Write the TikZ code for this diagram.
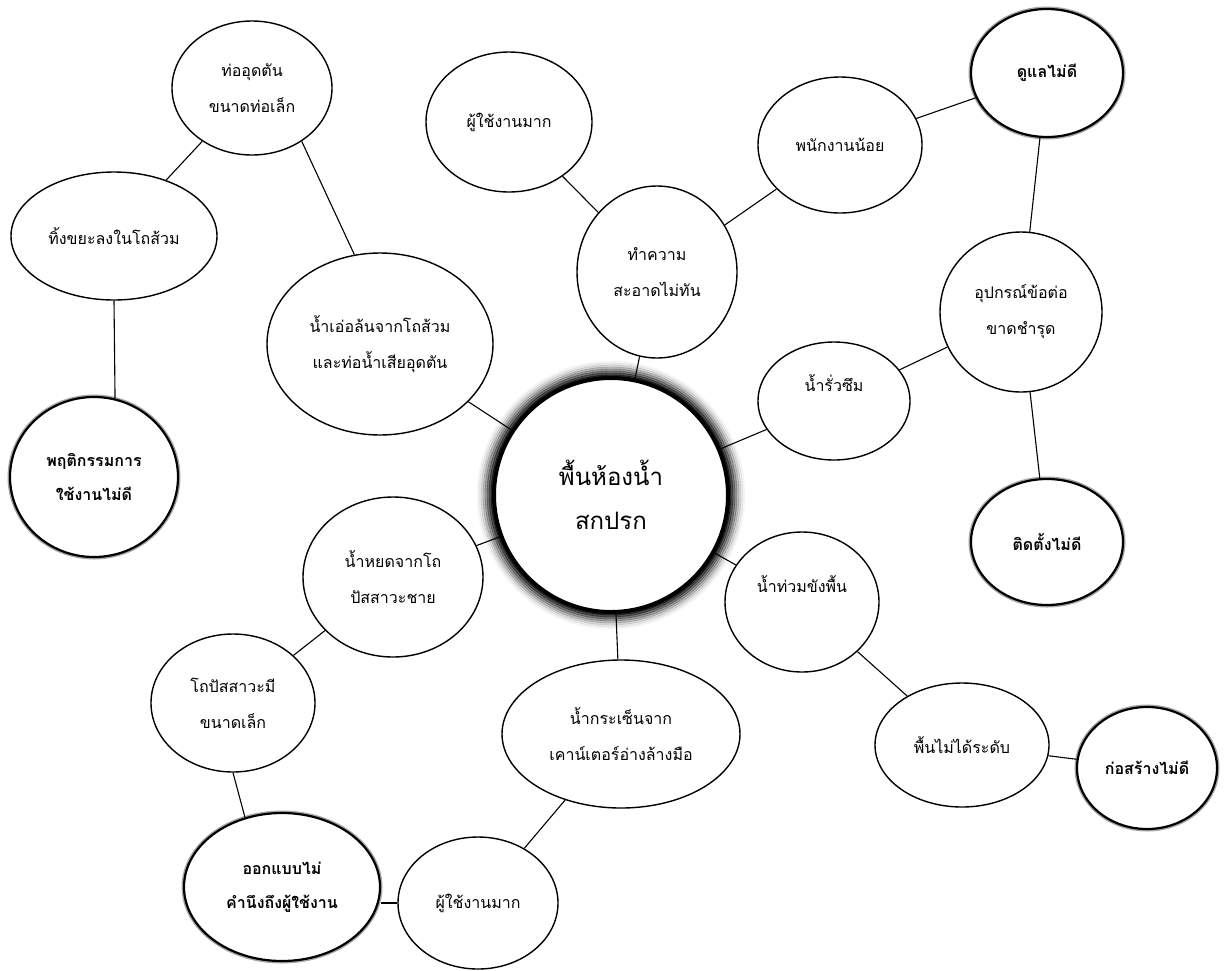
\documentclass[tikz,border=0pt]{standalone}
\usepackage{fontspec}
\newfontfamily\thaifont[Script=Thai]{Loma}
\usetikzlibrary{shapes.geometric,positioning}
\pgfdeclarelayer{bg}
\pgfsetlayers{bg,main}

\tikzset{
	bubble/.style 2 args={ellipse, draw, line width=1.4pt, fill=white,
		minimum width=#1pt, minimum height=#2pt, inner sep=0pt, align=center,
		font=\thaifont\fontsize{16}{36}\selectfont},
	boldbubble/.style={line width=2.2pt, preaction={draw, black!35, line width=5pt},
		font=\thaifont\bfseries\fontsize{16}{34}\selectfont},
	link/.style={line width=1.1pt}
}

\begin{document}
\begin{tikzpicture}[x=1pt, y=-1pt]

	\useasboundingbox (0,0) rectangle (1226,970);

	% centre
	\node[circle, draw, line width=4pt, fill=white, minimum size=234pt, inner sep=0pt,
		align=center, font=\thaifont\fontsize{24}{44}\selectfont] (floor) at (611,495) {พื้นห้องน้ำ\\สกปรก};
	\begin{pgfonlayer}{bg}
		\foreach \r/\o in {119/0.85,121/0.7,123/0.55,125/0.4,127/0.28,129/0.17,131/0.09,133/0.04}
			\draw[line width=2.4pt, black, opacity=\o] (floor.center) circle (\r pt);
	\end{pgfonlayer}

	% left branch
	\node[bubble={226}{182}] (overflow) at (380,344) {น้ำเอ่อล้นจากโถส้วม\\และท่อน้ำเสียอุดตัน};
	\node[bubble={160}{134}] (clog) at (252,88) {ท่ออุดตัน\\ขนาดท่อเล็ก};
	\node[bubble={206}{128}] (trash) at (114,236) {ทิ้งขยะลงในโถส้วม};
	\node[bubble={168}{160}, boldbubble] (behave) at (94,477) {พฤติกรรมการ\\ใช้งานไม่ดี};

	% top branch
	\node[bubble={160}{172}] (clean) at (657,272) {ทำความ\\สะอาดไม่ทัน};
	\node[bubble={166}{140}] (users1) at (509,122) {ผู้ใช้งานมาก};
	\node[bubble={164}{136}] (staff) at (840,145) {พนักงานน้อย};
	\node[bubble={152}{128}, boldbubble] (care) at (1047,73) {ดูแลไม่ดี};

	% right branch
	\node[bubble={152}{118}] (leak) at (834,401) {น้ำรั่วซึม\\\mbox{}};
	\node[bubble={162}{160}] (joint) at (1021,312) {อุปกรณ์ข้อต่อ\\ขาดชำรุด};
	\node[bubble={152}{126}, boldbubble] (install) at (1047,542) {ติดตั้งไม่ดี};

	\node[bubble={154}{140}] (flood) at (802,602) {น้ำท่วมขังพื้น\\\mbox{}};
	\node[bubble={174}{124}] (level) at (962,745) {พื้นไม่ได้ระดับ};
	\node[bubble={140}{122}, boldbubble] (build) at (1147,768) {ก่อสร้างไม่ดี};

	% bottom branch
	\node[bubble={238}{148}] (splash) at (621,734) {น้ำกระเซ็นจาก\\เคาน์เตอร์อ่างล้างมือ};
	\node[bubble={160}{132}] (users2) at (478,903) {ผู้ใช้งานมาก};
	\node[bubble={180}{160}] (drip) at (393,577) {น้ำหยดจากโถ\\ปัสสาวะชาย};
	\node[bubble={164}{138}] (urinal) at (233,703) {โถปัสสาวะมี\\ขนาดเล็ก};
	\node[bubble={196}{148}, boldbubble] (design) at (282,887) {ออกแบบไม่\\คำนึงถึงผู้ใช้งาน};

	% connectors
	\draw[link] (floor) -- (overflow);
	\draw[link] (clog.-47) -- (overflow.106);
	\draw[link] (clog) -- (trash);
	\draw[link] (trash.south) -- (behave.75);

	\draw[link] (floor) -- (clean);
	\draw[link] (clean) -- (users1);
	\draw[link] (clean) -- (staff);
	\draw[link] (staff) -- (care);
	\draw[link] (care) -- (joint);
	\draw[link] (joint) -- (leak);
	\draw[link] (joint) -- (install);
	\draw[link] (floor) -- (leak);

	\draw[link] (floor) -- (flood);
	\draw[link] (flood) -- (level);
	\draw[link] (level) -- (build);

	\draw[link] (floor) -- (splash);
	\draw[link] (splash) -- (users2);
	\draw[link] (users2.west) -- (users2.west -| design.east);
	\draw[link] (urinal.south) -- (design.118);
	\draw[link] (urinal) -- (drip);
	\draw[link] (drip) -- (floor);

\end{tikzpicture}
\end{document}
